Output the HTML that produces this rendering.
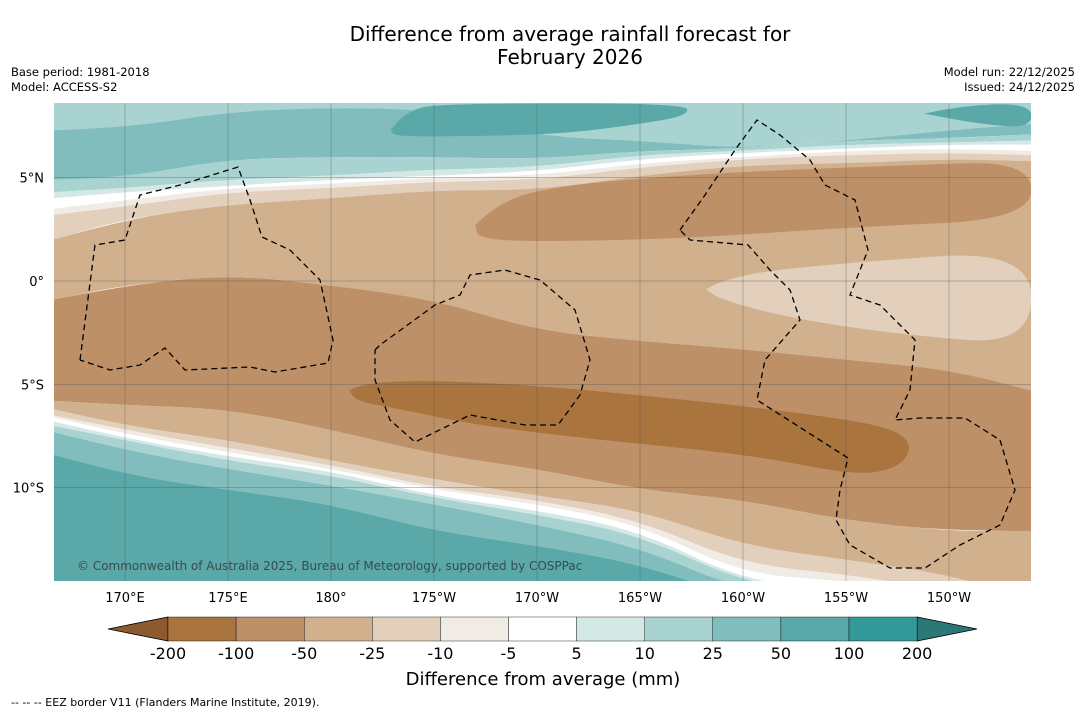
<!DOCTYPE html>
<html><head><meta charset="utf-8">
<style>
html,body{margin:0;padding:0;background:#fff;}
body{width:1085px;height:713px;overflow:hidden;font-family:"DejaVu Sans","Liberation Sans",sans-serif;}
svg text{font-family:"DejaVu Sans","Liberation Sans",sans-serif;}
</style></head>
<body>
<svg id="chart" width="1085" height="713" xmlns="http://www.w3.org/2000/svg">
<text x="570" y="41" font-size="20" text-anchor="middle">Difference from average rainfall forecast for</text>
<text x="570" y="64" font-size="20" text-anchor="middle">February 2026</text>
<text x="11" y="76" font-size="11.5">Base period: 1981-2018</text>
<text x="11" y="91" font-size="11.5">Model: ACCESS-S2</text>
<text x="1075" y="76" font-size="11.5" text-anchor="end">Model run: 22/12/2025</text>
<text x="1075" y="91" font-size="11.5" text-anchor="end">Issued: 24/12/2025</text>
<defs><clipPath id="plotclip"><rect x="54" y="103" width="977" height="478"/></clipPath></defs>
<g id="map" clip-path="url(#plotclip)"></g>
<g id="axes"></g>
<g id="cbar"></g>
<text x="543" y="685" font-size="18" text-anchor="middle">Difference from average (mm)</text>
<text x="11" y="706" font-size="11">--  --  -- EEZ border V11 (Flanders Marine Institute, 2019).</text>
</svg>
<script>
// ---- data ----
const lons = [166.5,170,175,180,185,190,195,200,205,210,214];
const b1  = [7.3,7.4,8.2,8.4,8.3,7.0,6.8,6.4,6.8,7.3,7.6];
const b2  = [4.9,5.0,5.9,6.0,6.0,5.9,6.3,6.4,6.8,6.9,7.1];
const b3  = [4.3,4.5,4.9,5.1,5.4,5.5,6.1,6.3,6.6,6.7,6.8];
const b4  = [4.0,4.3,4.6,4.9,5.1,5.3,5.9,6.2,6.4,6.6,6.6];
const b5  = [3.5,3.9,4.5,4.7,5.0,5.1,5.7,6.0,6.3,6.4,6.3];
const b6  = [3.2,3.6,4.3,4.5,4.8,4.9,5.5,5.9,6.1,6.2,6.1];
const b7  = [2.0,3.0,3.7,4.0,4.4,4.4,5.1,5.6,5.7,5.9,5.8];
const b8  = [-0.9,-0.2,0.3,-0.2,-0.9,-2.4,-2.9,-3.3,-3.8,-4.3,-5.3];
const b9  = [-5.8,-6.0,-6.2,-7.2,-8.4,-9.1,-10.1,-10.6,-11.6,-12.1,-12.1];
const b10 = [-6.2,-7.0,-7.7,-8.7,-9.6,-10.4,-11.1,-12.8,-13.5,-14.2,-15.4];
const b11 = [-6.5,-7.2,-8.1,-8.9,-10.0,-10.6,-11.6,-13.7,-14.2,-15.0,-15.7];
const b12 = [-6.6,-7.4,-8.3,-9.1,-10.1,-10.8,-11.8,-14.2,-14.5,-15.4,-15.9];
const b13 = [-6.8,-7.6,-8.5,-9.2,-10.4,-11.1,-12.1,-14.5,-15.0,-15.7,-16.2];
const b14 = [-7.0,-7.7,-8.7,-9.4,-10.5,-11.3,-12.3,-14.6,-15.2,-15.9,-16.4];
const b15 = [-7.3,-8.2,-9.1,-9.9,-10.8,-11.8,-12.9,-15.0,-15.4,-16.2,-16.7];
const b16 = [-8.4,-9.4,-10.1,-10.8,-12.1,-12.8,-13.7,-15.4,-15.9,-16.4,-16.9];
const bandCats = ['10-25','25-50','10-25','5-10','-5-5','-10--5','-25--10','-50--25','-100--50','-50--25','-25--10','-10--5','-5-5','5-10','10-25','25-50','50-100'];
const blobAnomLon = [187.0,188.2,191.1,195.5,200.3,207.7,214,214,205.2,197.9,191.1,187.2];
const blobAnomLat = [2.7,3.9,4.6,5.0,5.3,5.6,5.8,3.0,2.6,2.1,1.9,2.0];
const wedgeLon = [198.2,199.4,205.2,214,214,207.7,202.3,198.9];
const wedgeLat = [-0.4,0.3,0.9,1.5,-3.1,-2.6,-1.8,-0.9];
const dryLon = [180.9,181.7,188.2,197.9,205.2,207.7,208.2,207.4,205.4,200.3,193.1,187.2,183.3,181.2];
const dryLat = [-5.3,-4.8,-4.9,-5.8,-6.7,-7.3,-8.2,-9.1,-9.4,-8.4,-7.7,-7.0,-6.2,-5.8];
const wetLon = [182.9,183.6,185.8,197.3,197.3,195,191.1,185.8,183.1];
const wetLat = [7.3,8.3,8.6,8.6,8.0,7.6,7.1,7.0,7.0];
const wet2Lon = [208.8,210.5,214,214,211.5];
const wet2Lat = [8.1,8.5,8.6,7.4,7.6];
const cbarLabels = ['-200','-100','-50','-25','-10','-5','5','10','25','50','100','200'];
const cbarColors = ['#a9743e','#be9068','#d1b08e','#e2cfbc','#f1ebe6','#ffffff','#d4e8e6','#a9d3d1','#82bdbd','#5aa8a8','#339898'];
const lonTicks = [170,175,180,185,190,195,200,205,210];
const lonTickLabels = ['170°E','175°E','180°','175°W','170°W','165°W','160°W','155°W','150°W'];
const latTicks = [5,0,-5,-10];
const latTickLabels = ['5°N','0°','5°S','10°S'];
const colorMap = {'-200':'#8c5a2e','-100--50':'#be9068','-200--100':'#a9743e','-50--25':'#d1b08e','-25--10':'#e2cfbc','-10--5':'#f1ebe6','-5-5':'#ffffff','5-10':'#d4e8e6','10-25':'#a9d3d1','25-50':'#82bdbd','50-100':'#5aa8a8','100-200':'#339898'};
// ---- scales ----
const X = lon => 125 + (lon-170)*20.6;
const Y = lat => 281 - lat*20.66;
const NS='http://www.w3.org/2000/svg';
const map=document.getElementById('map');
function mk(tag,attrs,parent){const e=document.createElementNS(NS,tag);for(const k in attrs)e.setAttribute(k,attrs[k]);parent.appendChild(e);return e;}
function smooth(pts){let d='M'+pts[0][0]+','+pts[0][1];for(let i=1;i<pts.length-1;i++){const mx=(pts[i][0]+pts[i+1][0])/2,my=(pts[i][1]+pts[i+1][1])/2;d+=' Q'+pts[i][0]+','+pts[i][1]+' '+mx+','+my;}const l=pts[pts.length-1];d+=' L'+l[0]+','+l[1];return d;}
const top0 = lons.map(()=>10), bot = lons.map(()=>-22);
const bounds=[top0,b1,b2,b3,b4,b5,b6,b7,b8,b9,b10,b11,b12,b13,b14,b15,b16,bot];
for(let i=0;i<bandCats.length;i++){
  const up=bounds[i].map((v,j)=>[X(lons[j]),Y(v)]);
  const dn=bounds[i+1].map((v,j)=>[X(lons[j]),Y(v)]).reverse();
  let d=smooth(up)+' L'+dn[0][0]+','+dn[0][1]+' '+smooth(dn).slice(1)+' Z';
  const p=mk('path',{d:d,fill:colorMap[bandCats[i]]},map);
  
  
}
function blob(lo,la,col,name){
  const pts=lo.map((v,j)=>[X(v),Y(la[j])]);pts.push(pts[0]);
  const p=mk('path',{d:smooth(pts)+' Z',fill:col},map);
  
  
}
blob(blobAnomLon,blobAnomLat,colorMap['-100--50'],'dry-patch-north');
blob(wedgeLon,wedgeLat,colorMap['-25--10'],'moderate-patch-east');
blob(dryLon,dryLat,colorMap['-200--100'],'very-dry-patch');
blob(wetLon,wetLat,colorMap['50-100'],'wet-patch-north');
blob(wet2Lon,wet2Lat,colorMap['50-100'],'wet-patch-northeast');
// gridlines
lonTicks.forEach(l=>{const g=mk('line',{x1:X(l),x2:X(l),y1:103,y2:581,stroke:'#555','stroke-width':0.5,'stroke-opacity':0.7},map);

});
latTicks.forEach(l=>{const g=mk('line',{x1:54,x2:1031,y1:Y(l),y2:Y(l),stroke:'#555','stroke-width':0.5,'stroke-opacity':0.7},map);

});
// EEZ borders
const eez=['80,360 95,245 125,240 140,195 180,185 238,167 250,200 262,237 290,250 320,280 333,340 328,363 275,372 250,367 185,370 165,348 140,365 110,370 80,360',
'375,350 380,345 435,305 460,295 470,275 505,270 540,280 575,310 590,360 580,395 558,425 525,425 470,415 415,442 390,420 375,380 375,350',
'680,230 705,195 735,150 757,120 780,135 810,160 825,185 855,200 868,250 850,295 880,305 915,340 910,390 895,420 920,418 965,418 1000,440 1015,490 1000,525 960,545 925,568 890,568 850,545 836,520 840,490 848,458 757,400 765,360 800,320 790,290 770,270 748,245 690,240 680,230'];
eez.forEach(p=>{const e=mk('polyline',{points:p,fill:'none',stroke:'#000','stroke-width':1.3,'stroke-dasharray':'6,4'},map);

});
const cp=mk('text',{x:77,y:570,'font-size':12,fill:'#333','fill-opacity':0.8},map);cp.textContent='© Commonwealth of Australia 2025, Bureau of Meteorology, supported by COSPPac';


// axes labels
const ax=document.getElementById('axes');
lonTicks.forEach((l,i)=>{const t=mk('text',{x:X(l),y:602,'font-size':13,'text-anchor':'middle'},ax);t.textContent=lonTickLabels[i];

});
latTicks.forEach((l,i)=>{const t=mk('text',{x:44,y:Y(l)+5,'font-size':13,'text-anchor':'end'},ax);t.textContent=latTickLabels[i];

});
// colorbar
const cb=document.getElementById('cbar');
const cx0=168,cw=68.1,cy=617,ch=24;
const la=mk('polygon',{points:`108,${cy+ch/2} ${cx0},${cy} ${cx0},${cy+ch}`,fill:'#8c5a2e',stroke:'#000','stroke-width':0.8},cb);


const ra=mk('polygon',{points:`${cx0+11*cw},${cy} 977,${cy+ch/2} ${cx0+11*cw},${cy+ch}`,fill:'#2b7878',stroke:'#000','stroke-width':0.8},cb);


cbarColors.forEach((c,i)=>{const r=mk('rect',{x:cx0+i*cw,y:cy,width:cw,height:ch,fill:c,stroke:'#000','stroke-width':0.4},cb);

});
cbarLabels.forEach((s,i)=>{const t=mk('text',{x:cx0+i*cw,y:659,'font-size':16,'text-anchor':'middle'},cb);t.textContent=s;

});
</script>
</body></html>
